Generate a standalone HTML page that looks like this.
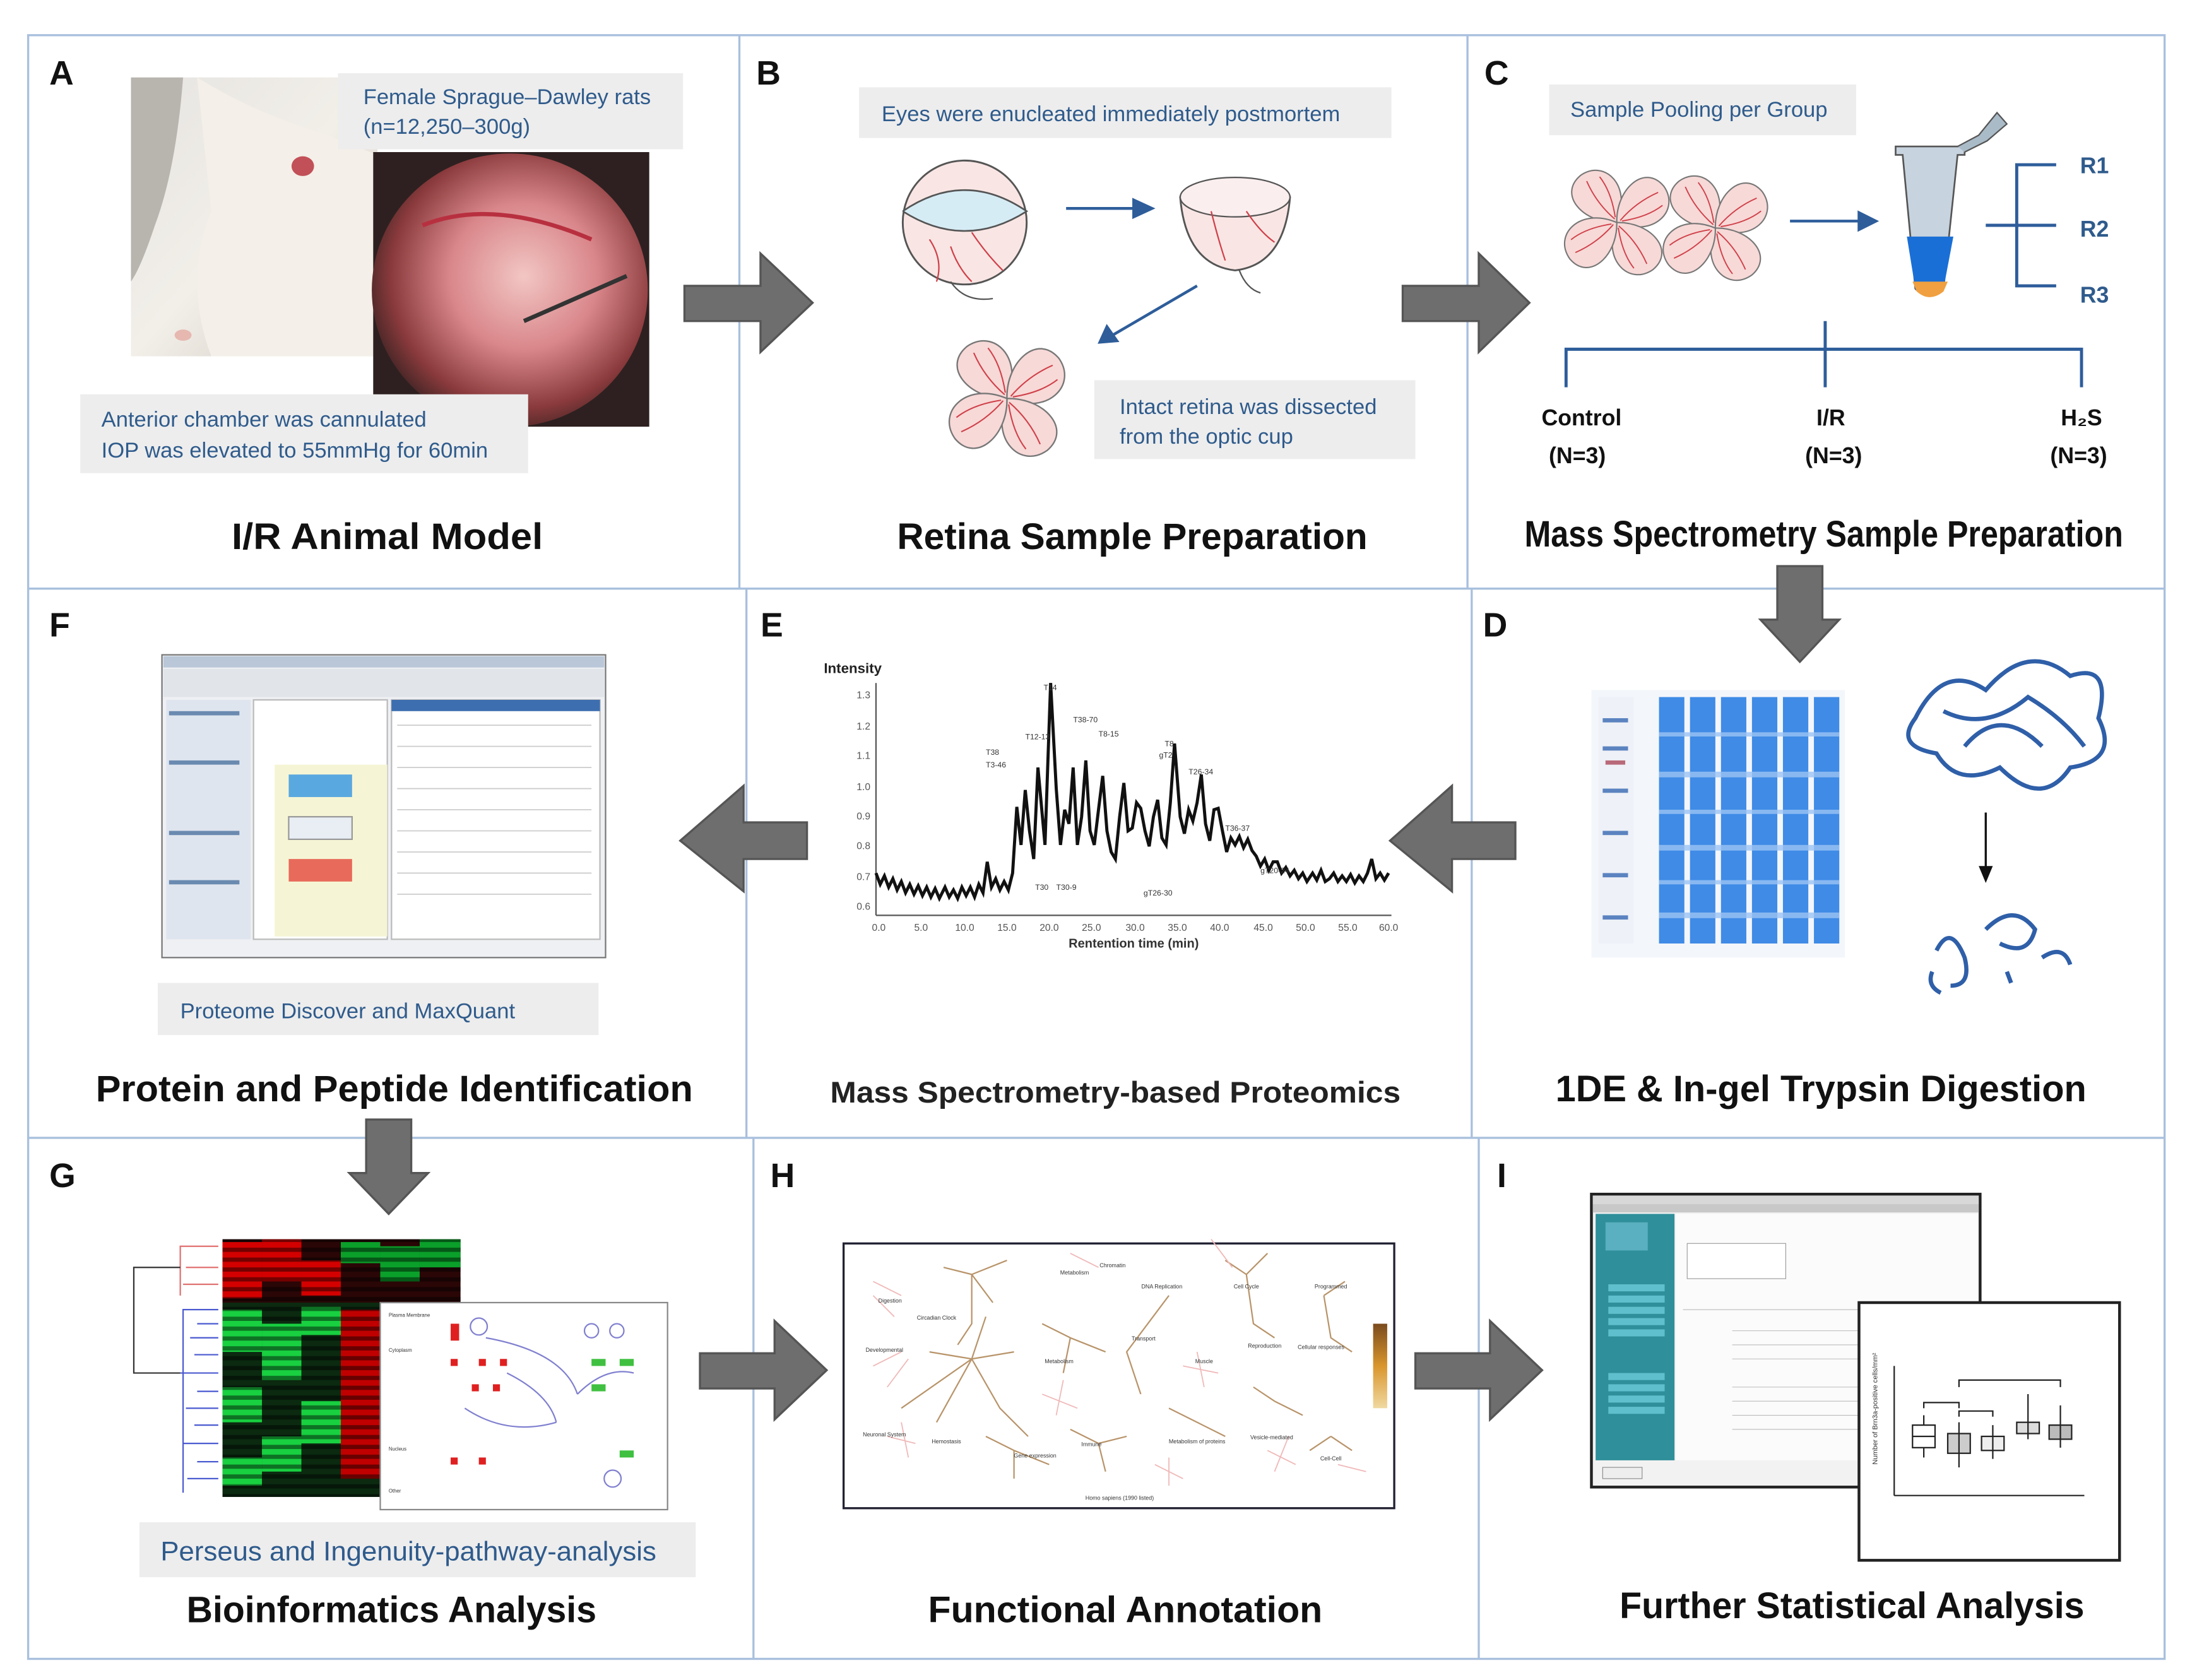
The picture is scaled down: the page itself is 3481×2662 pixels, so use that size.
<!DOCTYPE html>
<html><head><meta charset="utf-8"><style>
html,body{margin:0;padding:0;background:#fff}
svg{display:block}
text{font-family:"Liberation Sans",sans-serif}
.lbl{fill:#2f5b8c;font-size:15.5px}
.ttl{font-weight:bold;font-size:26px;fill:#111}
.let{font-weight:bold;font-size:24px;fill:#111}
</style></head><body>
<svg width="3481" height="2662" viewBox="0 0 1560 1193" preserveAspectRatio="none" xmlns="http://www.w3.org/2000/svg">
<defs>
<radialGradient id="eye" cx="0.55" cy="0.45" r="0.6"><stop offset="0" stop-color="#f2c6c4"/><stop offset="0.45" stop-color="#d9868a"/><stop offset="0.8" stop-color="#8a3a3c"/><stop offset="1" stop-color="#3a2222"/></radialGradient>
<linearGradient id="rat" x1="0" y1="0" x2="1" y2="1"><stop offset="0" stop-color="#e6e4e1"/><stop offset="0.5" stop-color="#f2efe9"/><stop offset="1" stop-color="#cdc6bb"/></linearGradient>
<linearGradient id="bar" x1="0" y1="0" x2="0" y2="1"><stop offset="0" stop-color="#7a4b1e"/><stop offset="0.5" stop-color="#d9962d"/><stop offset="1" stop-color="#f0d9a0"/></linearGradient>
<pattern id="stripes" width="10" height="7" patternUnits="userSpaceOnUse"><rect y="4" width="10" height="3" fill="#000" opacity="0.45"/></pattern>
<g id="petal"><path d="M0,0 C-22,-12 -28,-40 -6,-44 C16,-46 24,-18 0,0 Z" fill="#f7d9d7" stroke="#777" stroke-width="1"/><path d="M0,-3 Q-6,-20 -4,-38 M1,-4 Q8,-22 6,-36" stroke="#d0404a" stroke-width="0.9" fill="none"/></g>
<g id="flower">
<use href="#petal" transform="rotate(-30)"/><use href="#petal" transform="rotate(60)"/><use href="#petal" transform="rotate(150)"/><use href="#petal" transform="rotate(240)"/>
</g>
</defs>
<rect width="1560" height="1193" fill="#fff"/>
<!-- grid -->
<g stroke="#a9c0de" stroke-width="1.5" fill="none">
<rect x="20" y="25" width="1517" height="1153"/>
<line x1="20" y1="418" x2="1537" y2="418"/>
<line x1="20" y1="808" x2="1537" y2="808"/>
<line x1="525" y1="25" x2="525" y2="418"/>
<line x1="1042" y1="25" x2="1042" y2="418"/>
<line x1="530" y1="418" x2="530" y2="808"/>
<line x1="1045" y1="418" x2="1045" y2="808"/>
<line x1="535" y1="808" x2="535" y2="1178"/>
<line x1="1050" y1="808" x2="1050" y2="1178"/>
</g>
<!-- letters -->
<text class="let" x="35" y="60">A</text>
<text class="let" x="537" y="60">B</text>
<text class="let" x="1054" y="60">C</text>
<text class="let" x="35" y="452">F</text>
<text class="let" x="540" y="452">E</text>
<text class="let" x="1053" y="452">D</text>
<text class="let" x="35" y="843">G</text>
<text class="let" x="547" y="843">H</text>
<text class="let" x="1063" y="843">I</text>

<!-- Panel A -->
<rect x="93" y="55" width="175" height="198" fill="url(#rat)"/>
<path d="M93,55 L130,55 Q125,120 110,160 Q100,190 93,200 Z" fill="#b8b4ae"/>
<path d="M140,55 Q180,80 230,95 L268,110 L268,253 L150,253 Q130,200 150,150 Z" fill="#f4efe8"/>
<ellipse cx="215" cy="118" rx="8" ry="7" fill="#c25058"/>
<ellipse cx="130" cy="238" rx="6" ry="4" fill="#e6b8b0"/>
<rect x="265" y="108" width="196" height="195" fill="#2e2020"/>
<ellipse cx="362" cy="206" rx="98" ry="97" fill="url(#eye)"/>
<path d="M300,160 Q350,140 420,170" stroke="#b83040" stroke-width="3" fill="none"/>
<line x1="372" y1="228" x2="445" y2="196" stroke="#333" stroke-width="3"/>
<rect x="240" y="52" width="245" height="54" fill="#ededed"/>
<text class="lbl" x="258" y="74">Female Sprague–Dawley rats</text>
<text class="lbl" x="258" y="95">(n=12,250–300g)</text>
<rect x="57" y="280" width="318" height="56" fill="#ededed"/>
<text class="lbl" x="72" y="303">Anterior chamber was cannulated</text>
<text class="lbl" x="72" y="325">IOP was elevated to 55mmHg for 60min</text>
<text class="ttl" x="275" y="390" text-anchor="middle" textLength="221" lengthAdjust="spacingAndGlyphs">I/R Animal Model</text>

<!-- Arrows gray -->
<g fill="#6e6e6e" stroke="#555" stroke-width="1.5">
<path d="M486,203 L540,203 L540,180 L577,215 L540,250 L540,228 L486,228 Z"/>
<path d="M996,203 L1050,203 L1050,180 L1086,215 L1050,250 L1050,228 L996,228 Z"/>
<path d="M1262,402 L1294,402 L1294,440 L1306,440 L1278,470 L1250,440 L1262,440 Z"/>
<path d="M573,584 L528,584 L528,558 L483,597 L528,633 L528,610 L573,610 Z"/>
<path d="M1076,584 L1031,584 L1031,558 L987,597 L1031,633 L1031,610 L1076,610 Z"/>
<path d="M260,795 L292,795 L292,833 L304,833 L276,862 L248,833 L260,833 Z"/>
<path d="M497,961 L550,961 L550,938 L587,973 L550,1008 L550,986 L497,986 Z"/>
<path d="M1005,961 L1058,961 L1058,938 L1095,973 L1058,1008 L1058,986 L1005,986 Z"/>
</g>

<!-- Panel B -->
<rect x="610" y="62" width="378" height="36" fill="#ededed"/>
<text class="lbl" x="626" y="86">Eyes were enucleated immediately postmortem</text>
<circle cx="685" cy="158" r="44" fill="#f9e6e4" stroke="#555" stroke-width="1.3"/>
<path d="M641,150 Q685,120 729,150 Q685,178 641,150" fill="#d6ecf5" stroke="#555" stroke-width="1.2"/>
<g stroke="#d0404a" stroke-width="1" fill="none"><path d="M660,170 Q670,185 665,200"/><path d="M690,165 Q700,180 712,192"/><path d="M675,175 Q680,190 690,200"/></g>
<path d="M675,200 Q685,215 705,212" stroke="#555" fill="none"/>
<path d="M838,140 Q877,120 916,140 Q912,188 877,192 Q842,188 838,140 Z" fill="#f9e6e4" stroke="#555" stroke-width="1.3"/>
<ellipse cx="877" cy="140" rx="39" ry="14" fill="#fbeeee" stroke="#555"/>
<g stroke="#d0404a" stroke-width="1" fill="none"><path d="M860,150 Q865,170 870,185"/><path d="M885,150 Q895,165 905,172"/></g>
<path d="M880,192 Q885,205 895,208" stroke="#555" fill="none"/>
<g stroke="#2e5d9a" stroke-width="2" fill="#2e5d9a">
<line x1="757" y1="148" x2="808" y2="148"/><path d="M805,142 L818,148 L805,154 Z"/>
<line x1="850" y1="203" x2="790" y2="238"/><path d="M786,232 L781,243 L793,242 Z"/>
</g>
<use href="#flower" transform="translate(715,283) scale(1.05)"/>
<rect x="777" y="270" width="228" height="56" fill="#ededed"/>
<text class="lbl" x="795" y="294">Intact retina was dissected</text>
<text class="lbl" x="795" y="315">from the optic cup</text>
<text class="ttl" x="804" y="390" text-anchor="middle" textLength="334" lengthAdjust="spacingAndGlyphs">Retina Sample Preparation</text>

<!-- Panel C -->
<rect x="1100" y="60" width="218" height="36" fill="#ededed"/>
<text class="lbl" x="1115" y="83">Sample Pooling per Group</text>
<use href="#flower" transform="translate(1148,158) scale(0.95)"/>
<use href="#flower" transform="translate(1218,162) scale(0.95)"/>
<g stroke="#2e5d9a" stroke-width="2" fill="#2e5d9a"><line x1="1271" y1="157" x2="1322" y2="157"/><path d="M1320,151 L1332,157 L1320,163 Z"/></g>
<path d="M1346,104 L1395,104 L1395,110 L1390,110 L1380,205 Q1370,215 1360,205 L1351,110 L1346,110 Z" fill="#c7d3de" stroke="#555" stroke-width="1.2"/>
<path d="M1354,168 L1387,168 L1380,205 Q1370,215 1360,205 Z" fill="#1a6fd6"/>
<path d="M1358,200 L1383,200 L1380,207 Q1370,215 1361,207 Z" fill="#f0a040"/>
<path d="M1390,104 L1405,96 L1418,80 L1425,88 L1411,100 L1395,108" fill="#aabbc8" stroke="#555"/>
<g stroke="#2e5d9a" stroke-width="2.2" fill="none">
<path d="M1460,117 L1432,117 L1432,203 L1460,203"/><line x1="1410" y1="160" x2="1460" y2="160"/>
<path d="M1112,275 L1112,248 L1478,248 L1478,275"/><line x1="1296" y1="228" x2="1296" y2="275"/>
</g>
<g fill="#2f5b8c" font-weight="bold" font-size="16"><text x="1477" y="123">R1</text><text x="1477" y="168">R2</text><text x="1477" y="215">R3</text></g>
<g font-size="16" font-weight="bold" fill="#111" text-anchor="middle">
<text x="1123" y="302">Control</text><text x="1120" y="329">(N=3)</text>
<text x="1300" y="302">I/R</text><text x="1302" y="329">(N=3)</text>
<text x="1478" y="302">H₂S</text><text x="1476" y="329">(N=3)</text>
</g>
<text class="ttl" x="1295" y="388" font-size="23" text-anchor="middle" textLength="425" lengthAdjust="spacingAndGlyphs">Mass Spectrometry Sample Preparation</text>

<!-- Panel F -->
<rect x="115" y="465" width="315" height="215" fill="#eef0f3" stroke="#777"/>
<rect x="116" y="466" width="313" height="8" fill="#b9c7d8"/>
<rect x="116" y="475" width="313" height="20" fill="#e1e5ea"/>
<rect x="118" y="497" width="60" height="170" fill="#dfe5ee"/>
<g fill="#6a8ab0"><rect x="120" y="505" width="50" height="3"/><rect x="120" y="540" width="50" height="3"/><rect x="120" y="590" width="50" height="3"/><rect x="120" y="625" width="50" height="3"/></g>
<rect x="180" y="497" width="95" height="170" fill="#fff" stroke="#bbb"/>
<rect x="195" y="543" width="80" height="122" fill="#f5f5d5"/>
<rect x="205" y="550" width="45" height="16" fill="#5aa8e0"/>
<rect x="205" y="580" width="45" height="16" fill="#e8eef4" stroke="#999"/>
<rect x="205" y="610" width="45" height="16" fill="#e86a5a"/>
<rect x="278" y="497" width="148" height="170" fill="#fff" stroke="#bbb"/>
<rect x="278" y="497" width="148" height="8" fill="#3d6fb0"/>
<g stroke="#ccc" stroke-width="0.8">
<line x1="282" y1="515" x2="420" y2="515"/><line x1="282" y1="530" x2="420" y2="530"/><line x1="282" y1="545" x2="420" y2="545"/><line x1="282" y1="560" x2="420" y2="560"/><line x1="282" y1="575" x2="420" y2="575"/><line x1="282" y1="590" x2="420" y2="590"/><line x1="282" y1="605" x2="420" y2="605"/><line x1="282" y1="620" x2="420" y2="620"/><line x1="282" y1="635" x2="420" y2="635"/></g>
<rect x="112" y="698" width="313" height="37" fill="#ededed"/>
<text class="lbl" x="128" y="723" font-size="16">Proteome Discover and MaxQuant</text>
<text class="ttl" x="280" y="782" text-anchor="middle" textLength="424" lengthAdjust="spacingAndGlyphs">Protein and Peptide Identification</text>

<!-- Panel E chart -->
<text x="585" y="478" font-size="10" font-weight="bold" fill="#222">Intensity</text>
<g stroke="#555" stroke-width="1"><line x1="622" y1="485" x2="622" y2="650"/><line x1="622" y1="650" x2="988" y2="650"/></g>
<g font-size="7" fill="#555" text-anchor="end">
<text x="618" y="496">1.3</text><text x="618" y="518">1.2</text><text x="618" y="539">1.1</text><text x="618" y="561">1.0</text><text x="618" y="582">0.9</text><text x="618" y="603">0.8</text><text x="618" y="625">0.7</text><text x="618" y="646">0.6</text></g>
<g font-size="7" fill="#555" text-anchor="middle">
<text x="624" y="661">0.0</text><text x="654" y="661">5.0</text><text x="685" y="661">10.0</text><text x="715" y="661">15.0</text><text x="745" y="661">20.0</text><text x="775" y="661">25.0</text><text x="806" y="661">30.0</text><text x="836" y="661">35.0</text><text x="866" y="661">40.0</text><text x="897" y="661">45.0</text><text x="927" y="661">50.0</text><text x="957" y="661">55.0</text><text x="986" y="661">60.0</text></g>
<text x="805" y="673" font-size="9" font-weight="bold" fill="#333" text-anchor="middle">Rentention time (min)</text>
<polyline fill="none" stroke="#111" stroke-width="2.2" points="622,620 625,628 628,622 631,630 634,624 637,632 640,626 643,634 646,628 649,635 652,629 655,636 658,630 661,637 664,631 667,638 671,630 674,637 677,632 680,638 683,630 686,636 689,630 692,637 695,628 698,634 701,612 704,630 707,624 710,632 713,626 716,632 719,620 722,573 725,600 728,561 731,590 734,610 737,545 742,600 746,485 750,560 753,600 756,575 759,585 762,545 765,600 768,580 771,540 774,590 777,600 780,575 783,551 786,590 789,605 792,610 795,580 798,556 801,590 804,588 807,570 810,574 813,590 816,601 819,580 822,568 825,595 828,600 831,570 834,528 838,580 841,592 844,575 847,583 850,570 853,550 856,585 859,597 862,575 865,574 868,590 871,605 874,595 877,600 880,594 883,602 886,596 889,604 892,608 895,615 898,610 901,618 904,612 907,612 910,620 913,616 916,622 919,618 922,624 925,620 928,626 932,620 935,625 938,618 941,626 944,624 947,620 950,626 953,622 956,626 959,621 962,627 965,622 968,626 971,620 974,610 977,624 980,620 983,625 986,620"/>
<g font-size="5.5" fill="#333"><text x="741" y="490">T14</text><text x="762" y="513">T38-70</text><text x="728" y="525">T12-13</text><text x="780" y="523">T8-15</text><text x="700" y="536">T38</text><text x="700" y="545">T3-46</text><text x="827" y="530">T8</text><text x="823" y="538">gT2</text><text x="844" y="550">T26-34</text><text x="870" y="590">T36-37</text><text x="895" y="620">gT20-24</text><text x="735" y="632">T30</text><text x="750" y="632">T30-9</text><text x="812" y="636">gT26-30</text></g>

<!-- Panel D -->
<rect x="1130" y="490" width="180" height="190" fill="#f3f6fb"/>
<rect x="1135" y="495" width="25" height="175" fill="#eef1f7"/>
<g fill="#5b83c0"><rect x="1138" y="510" width="18" height="3"/><rect x="1138" y="530" width="18" height="3"/><rect x="1138" y="560" width="18" height="3"/><rect x="1138" y="590" width="18" height="3"/><rect x="1138" y="620" width="18" height="3"/><rect x="1138" y="650" width="18" height="3"/></g>
<rect x="1140" y="540" width="14" height="3" fill="#b86a7a"/>
<g fill="#3f8be6">
<rect x="1178" y="495" width="18" height="175"/><rect x="1200" y="495" width="18" height="175"/><rect x="1222" y="495" width="18" height="175"/><rect x="1244" y="495" width="18" height="175"/><rect x="1266" y="495" width="18" height="175"/><rect x="1288" y="495" width="18" height="175"/></g>
<g fill="#9cc4f4" opacity="0.8"><rect x="1178" y="520" width="128" height="3"/><rect x="1178" y="548" width="128" height="4"/><rect x="1178" y="575" width="128" height="3"/><rect x="1178" y="600" width="128" height="4"/><rect x="1178" y="625" width="128" height="3"/><rect x="1178" y="648" width="128" height="4"/></g>
<g fill="none" stroke="#2f5fa8" stroke-width="3">
<path d="M1360,510 Q1380,470 1410,490 Q1440,455 1470,480 Q1500,470 1490,510 Q1505,540 1470,545 Q1450,575 1420,545 Q1390,560 1375,535 Q1345,530 1360,510 Z"/>
<path d="M1380,505 Q1410,520 1440,495 Q1465,510 1480,530 M1395,530 Q1420,500 1450,530"/>
<path d="M1375,675 Q1385,655 1395,680 Q1400,700 1385,700 M1410,660 Q1430,640 1445,660 Q1440,680 1420,670 M1450,680 Q1465,670 1470,685 M1425,690 L1428,698 M1372,690 Q1368,700 1378,705"/>
</g>
<line x1="1410" y1="577" x2="1410" y2="618" stroke="#111" stroke-width="1.5"/><path d="M1405,615 L1410,627 L1415,615 Z" fill="#111"/>
<text class="ttl" x="1293" y="782" text-anchor="middle" textLength="377" lengthAdjust="spacingAndGlyphs">1DE &amp; In-gel Trypsin Digestion</text>
<text x="792" y="783" font-size="21" font-weight="bold" fill="#222" text-anchor="middle" textLength="405" lengthAdjust="spacingAndGlyphs">Mass Spectrometry-based Proteomics</text>

<!-- Panel G -->
<g stroke="#4a5ad0" stroke-width="1" fill="none"><path d="M155,930 L130,930 L130,1060 M155,950 L135,950 M155,975 L128,975 M155,1000 L132,1000 M155,1025 L130,1025 M155,1050 L133,1050 M155,940 L140,940 M155,962 L138,962 M155,988 L140,988 M155,1012 L138,1012 M155,1038 L140,1038"/></g>
<g stroke="#e07070" stroke-width="1" fill="none"><path d="M155,885 L128,885 L128,920 M155,900 L132,900 M155,912 L130,912"/></g>
<path d="M128,900 L95,900 L95,975 L128,975" stroke="#333" fill="none"/>
<rect x="158" y="880" width="169" height="45" fill="#2a0606"/>
<g fill="#d40000"><rect x="158" y="882" width="28" height="40"/><rect x="186" y="880" width="28" height="30"/><rect x="214" y="895" width="28" height="25"/></g>
<g fill="#0aa02a"><rect x="242" y="882" width="28" height="15"/><rect x="270" y="885" width="28" height="25"/><rect x="298" y="880" width="29" height="20"/></g>
<rect x="158" y="925" width="169" height="138" fill="#0b2a10"/>
<g fill="#18d040"><rect x="158" y="930" width="28" height="30"/><rect x="186" y="940" width="28" height="40"/><rect x="214" y="928" width="28" height="20"/><rect x="158" y="985" width="28" height="25"/><rect x="214" y="995" width="28" height="30"/><rect x="186" y="1020" width="28" height="25"/><rect x="158" y="1035" width="28" height="20"/></g>
<g fill="#c00000"><rect x="242" y="930" width="28" height="120"/></g>
<rect x="158" y="880" width="169" height="183" fill="url(#stripes)"/>
<rect x="270" y="925" width="204" height="147" fill="#fff" stroke="#888"/>
<g fill="#e02020"><rect x="320" y="940" width="6" height="12"/><rect x="320" y="965" width="5" height="5"/><rect x="340" y="965" width="5" height="5"/><rect x="355" y="965" width="5" height="5"/><rect x="335" y="983" width="5" height="5"/><rect x="350" y="983" width="5" height="5"/><rect x="320" y="1035" width="5" height="5"/><rect x="340" y="1035" width="5" height="5"/></g>
<g fill="#40c040"><rect x="420" y="965" width="10" height="5"/><rect x="440" y="965" width="10" height="5"/><rect x="420" y="983" width="10" height="5"/><rect x="440" y="1030" width="10" height="5"/></g>
<g stroke="#8080d0" fill="none" stroke-width="1"><circle cx="340" cy="942" r="6"/><circle cx="420" cy="945" r="5"/><circle cx="438" cy="945" r="5"/><path d="M345,950 Q400,960 410,990 M360,975 Q390,990 395,1010 M330,1000 Q360,1020 395,1010 M410,990 Q430,970 450,975"/><circle cx="435" cy="1050" r="6"/></g>
<g font-size="3.5" fill="#333"><text x="276" y="935">Plasma Membrane</text><text x="276" y="960">Cytoplasm</text><text x="276" y="1030">Nucleus</text><text x="276" y="1060">Other</text></g>
<rect x="99" y="1081" width="395" height="39" fill="#ededed"/>
<text x="290" y="1108" font-size="19" fill="#2f5b8c" text-anchor="middle" textLength="352" lengthAdjust="spacingAndGlyphs">Perseus and Ingenuity-pathway-analysis</text>
<text class="ttl" x="278" y="1152" text-anchor="middle" textLength="291" lengthAdjust="spacingAndGlyphs">Bioinformatics Analysis</text>

<!-- Panel H -->
<rect x="599" y="883" width="391" height="188" fill="#fff" stroke="#223" stroke-width="1.5"/>
<g stroke="#b8946a" stroke-width="1" fill="none">
<path d="M690,905 L690,940 L680,955 M690,905 L670,900 M690,905 L715,895 M690,905 L705,925"/>
<path d="M690,965 L660,960 M690,965 L700,935 M690,965 L710,1000 L730,1020 M690,965 L640,1000 M690,965 L665,1010 M690,965 L720,960"/>
<path d="M760,950 L740,940 M760,950 L785,960 M760,950 L755,975"/>
<path d="M815,940 L800,960 L810,990 M815,940 L830,920"/>
<path d="M885,905 L890,940 L905,950 M885,905 L870,895 M885,905 L900,890"/>
<path d="M940,920 L945,950 L960,960 M940,920 L955,910"/>
<path d="M720,1030 L700,1020 M720,1030 L745,1040 M720,1030 L720,1050"/>
<path d="M780,1025 L760,1015 M780,1025 L800,1020 M780,1025 L785,1045"/>
<path d="M850,1010 L830,1000 M850,1010 L870,1020"/>
<path d="M905,995 L890,985 M905,995 L925,1005"/>
<path d="M945,1020 L930,1030 M945,1020 L960,1030"/>
</g>
<g stroke="#f0b8b8" stroke-width="0.8" fill="none">
<path d="M620,910 l20,10 m-20,0 l15,15 M640,960 l-20,10 m25,-5 l-15,20 M630,1020 l20,5 m-10,-15 l5,25 M740,990 l25,10 m-10,-20 l-5,25 M840,970 l25,5 m-15,-15 l5,25 M900,1030 l20,10 m-5,-20 l-10,25 M950,1040 l20,5 M820,1040 l20,10 m-10,-15 l0,20 M760,890 l20,10 M860,880 l15,20"/>
</g>
<rect x="975" y="940" width="10" height="60" fill="url(#bar)"/>
<g font-size="4" fill="#333" text-anchor="middle"><text x="632" y="925">Digestion</text><text x="665" y="937">Circadian Clock</text><text x="628" y="960">Developmental</text><text x="763" y="905">Metabolism</text><text x="790" y="900">Chromatin</text><text x="825" y="915">DNA Replication</text><text x="885" y="915">Cell Cycle</text><text x="945" y="915">Programmed</text><text x="752" y="968">Metabolism</text><text x="812" y="952">Transport</text><text x="855" y="968">Muscle</text><text x="898" y="957">Reproduction</text><text x="938" y="958">Cellular responses</text><text x="628" y="1020">Neuronal System</text><text x="672" y="1025">Hemostasis</text><text x="735" y="1035">Gene expression</text><text x="775" y="1027">Immune</text><text x="850" y="1025">Metabolism of proteins</text><text x="903" y="1022">Vesicle-mediated</text><text x="945" y="1037">Cell-Cell</text><text x="795" y="1065">Homo sapiens (1990 listed)</text></g>
<text class="ttl" x="799" y="1152" text-anchor="middle" textLength="280" lengthAdjust="spacingAndGlyphs">Functional Annotation</text>

<!-- Panel I -->
<rect x="1130" y="848" width="276" height="208" fill="#f2f2f2" stroke="#222" stroke-width="2"/>
<rect x="1131" y="849" width="274" height="6" fill="#d8d8d8"/>
<rect x="1131" y="855" width="274" height="6" fill="#c8c8c8"/>
<rect x="1133" y="862" width="56" height="175" fill="#2f8f9a"/>
<rect x="1140" y="868" width="30" height="20" fill="#5ab0c0"/>
<g fill="#5fbfcc"><rect x="1142" y="912" width="40" height="5"/><rect x="1142" y="920" width="40" height="5"/><rect x="1142" y="928" width="40" height="5"/><rect x="1142" y="936" width="40" height="5"/><rect x="1142" y="944" width="40" height="5"/><rect x="1142" y="975" width="40" height="5"/><rect x="1142" y="983" width="40" height="5"/><rect x="1142" y="991" width="40" height="5"/><rect x="1142" y="999" width="40" height="5"/></g>
<rect x="1190" y="862" width="214" height="175" fill="#fbfbfb"/>
<rect x="1198" y="883" width="70" height="25" fill="#fff" stroke="#999" stroke-width="0.5"/>
<g stroke="#bbb" stroke-width="0.5"><line x1="1195" y1="930" x2="1320" y2="930"/><line x1="1230" y1="945" x2="1320" y2="945"/><line x1="1230" y1="955" x2="1320" y2="955"/><line x1="1230" y1="965" x2="1320" y2="965"/><line x1="1230" y1="985" x2="1320" y2="985"/><line x1="1230" y1="995" x2="1320" y2="995"/><line x1="1230" y1="1005" x2="1320" y2="1005"/><line x1="1230" y1="1015" x2="1320" y2="1015"/></g>
<rect x="1138" y="1042" width="28" height="8" fill="#eee" stroke="#888" stroke-width="0.5"/>
<rect x="1320" y="925" width="185" height="183" fill="#fff" stroke="#222" stroke-width="2"/>
<g stroke="#222" stroke-width="1" fill="none">
<line x1="1345" y1="970" x2="1345" y2="1062"/><line x1="1345" y1="1062" x2="1480" y2="1062"/>
<rect x="1358" y="1012" width="16" height="16" fill="#fff"/><line x1="1358" y1="1020" x2="1374" y2="1020"/><line x1="1366" y1="1005" x2="1366" y2="1012"/><line x1="1366" y1="1028" x2="1366" y2="1035"/>
<rect x="1383" y="1018" width="16" height="14" fill="#ccc"/><line x1="1391" y1="1010" x2="1391" y2="1042"/>
<rect x="1407" y="1020" width="16" height="10" fill="#eee"/><line x1="1415" y1="1012" x2="1415" y2="1036"/>
<rect x="1432" y="1010" width="16" height="8" fill="#ddd"/><line x1="1440" y1="990" x2="1440" y2="1022"/>
<rect x="1455" y="1012" width="16" height="10" fill="#bbb"/><line x1="1463" y1="998" x2="1463" y2="1028"/>
<path d="M1366,1000 L1366,996 L1391,996 L1391,1000 M1391,1006 L1391,1002 L1415,1002 L1415,1006 M1391,985 L1391,980 L1463,980 L1463,985"/>
</g>
<text x="1333" y="1040" font-size="5" fill="#333" transform="rotate(-90 1333 1040)">Number of Brn3a-positive cells/mm²</text>
<text class="ttl" x="1315" y="1149" text-anchor="middle" textLength="330" lengthAdjust="spacingAndGlyphs">Further Statistical Analysis</text>
</svg>
</body></html>
